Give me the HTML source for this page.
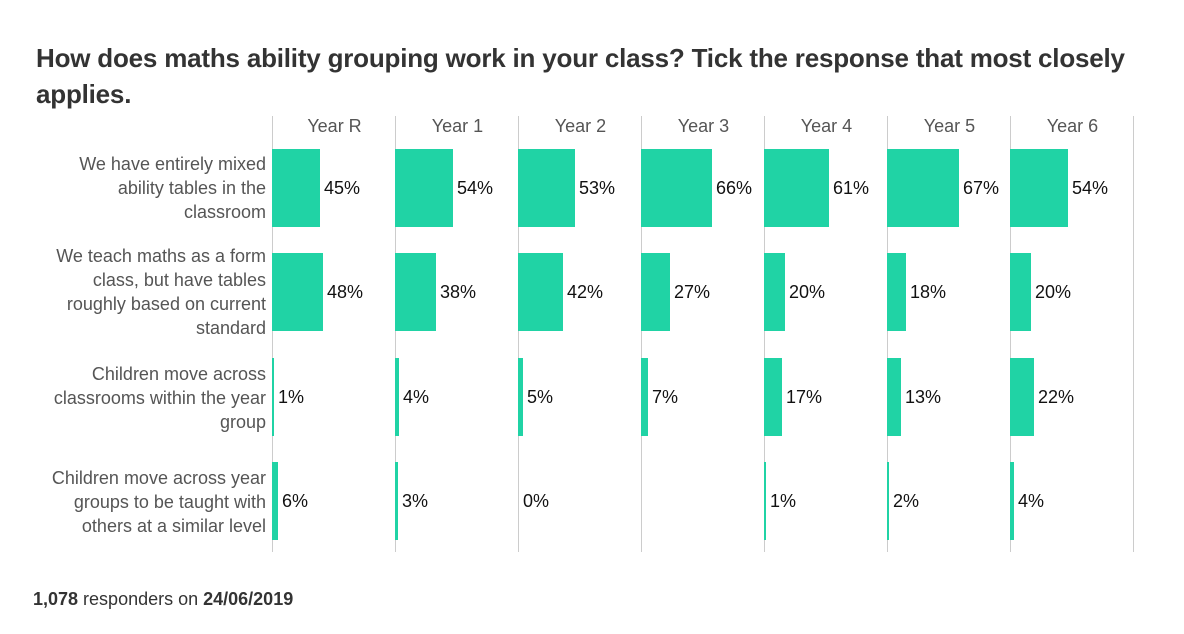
<!DOCTYPE html>
<html><head><meta charset="utf-8"><style>
body{margin:0;width:1184px;height:634px;background:#fff;font-family:"Liberation Sans",sans-serif;position:relative;overflow:hidden}
.t{position:absolute;left:36px;top:40px;font-size:26px;font-weight:bold;color:#333;line-height:36px;width:1130px;letter-spacing:-0.2px}
.g{position:absolute;top:116px;height:436px;width:1px;background:#ccc}
.h{position:absolute;top:116px;width:123px;text-align:center;font-size:18px;color:#555}
.l{position:absolute;left:30px;width:236px;text-align:right;font-size:18px;color:#555;line-height:24px}
.b{position:absolute;height:78px;background:#20d3a5}
.p{position:absolute;font-size:18px;color:#111;line-height:20px}
.f{position:absolute;left:33px;top:589px;font-size:18px;color:#333}
</style></head><body>
<div class="t">How does maths ability grouping work in your class? Tick the response that most closely applies.</div>
<div class="l" style="top:152px">We have entirely mixed<br>ability tables in the<br>classroom</div>
<div class="l" style="top:244px">We teach maths as a form<br>class, but have tables<br>roughly based on current<br>standard</div>
<div class="l" style="top:362px">Children move across<br>classrooms within the year<br>group</div>
<div class="l" style="top:466px">Children move across year<br>groups to be taught with<br>others at a similar level</div>
<div class="f"><b>1,078</b> responders on <b>24/06/2019</b></div>
<div id="c"></div>
<script>
var yrs=["Year R","Year 1","Year 2","Year 3","Year 4","Year 5","Year 6"];
var d=[[45,54,53,66,61,67,54],[48,38,42,27,20,18,20],[1,4,5,7,17,13,22],[6,3,0,null,1,2,4]];
var tops=[149,253,358,462],h="";
for(var i=0;i<8;i++)h+='<div class="g" style="left:'+(272+123*i)+'px"></div>';
for(var c=0;c<7;c++){var x=272+123*c;h+='<div class="h" style="left:'+(x+1)+'px">'+yrs[c]+'</div>';
for(var r=0;r<4;r++){var v=d[r][c];if(v===null)continue;var w=v==0?0:Math.max(2,Math.round(v*1.07));
if(w)h+='<div class="b" style="left:'+x+'px;top:'+tops[r]+'px;width:'+w+'px"></div>';
h+='<div class="p" style="left:'+(x+w+(w?4:5))+'px;top:'+(tops[r]+29)+'px">'+v+'%</div>';}}
document.getElementById("c").innerHTML=h;
</script>
</body></html>
